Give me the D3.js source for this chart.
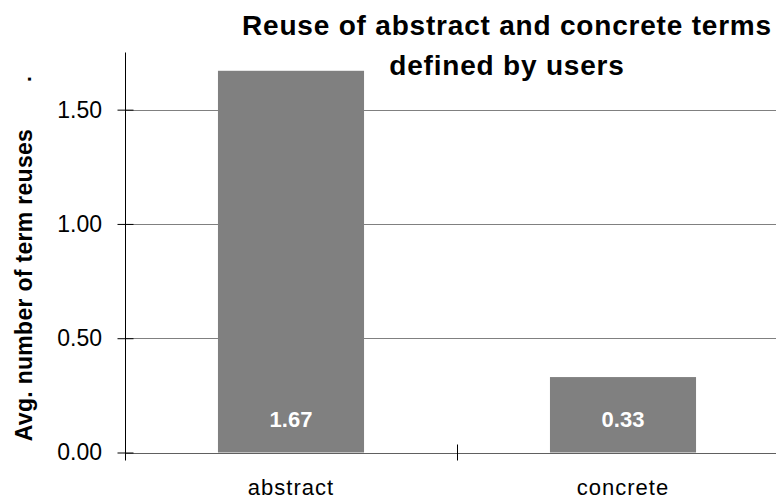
<!DOCTYPE html>
<html>
<head>
<meta charset="utf-8">
<script src="https://cdn.jsdelivr.net/npm/d3@7"></script>
<style>
  html, body { margin: 0; padding: 0; background: #fff; }
  svg { display: block; font-family: "Liberation Sans", Arial, sans-serif; }
</style>
</head>
<body>
<svg id="chart" width="776" height="501"></svg>
<script>
const categories = ["abstract", "concrete"];
const values = [1.67, 0.33];
const valueLabels = ["1.67", "0.33"];
const yTicks = [0, 0.5, 1.0, 1.5];
const yTickLabels = ["0.00", "0.50", "1.00", "1.50"];
const titleLines = ["Reuse of abstract and concrete terms", "defined by users"];
const yTitle = "Avg. number of term reuses";

const svg = d3.select("#chart");
const W = 776, H = 501;
const plot = { left: 125, right: 789, top: 52.5, bottom: 452.5 };

const y = d3.scaleLinear().domain([0, 1.75]).range([plot.bottom, plot.top]);
const x = d3.scaleBand().domain(categories).range([plot.left, plot.right])
  .paddingInner(0.56).paddingOuter(0.28);

// gridlines
svg.append("g").selectAll("line").data(yTicks).join("line")
  .attr("x1", plot.left).attr("x2", W + 20)
  .attr("y1", d => Math.round(y(d)) + 0.5).attr("y2", d => Math.round(y(d)) + 0.5)
  .attr("stroke", "#808080").attr("stroke-width", 1.2);

// bars
svg.append("g").selectAll("rect").data(categories).join("rect")
  .attr("x", d => x(d)).attr("width", x.bandwidth())
  .attr("y", (d, i) => y(values[i])).attr("height", (d, i) => y(0) - y(values[i]))
  .attr("fill", "#808080");

// x-axis line (gray baseline)
svg.append("line").attr("x1", plot.left).attr("x2", W + 20)
  .attr("y1", Math.round(y(0)) + 0.5).attr("y2", Math.round(y(0)) + 0.5)
  .attr("stroke", "#606060").attr("stroke-width", 1.2);

// y axis with crossing ticks
const yAxis = d3.axisLeft(y).tickValues(yTicks).tickFormat((d, i) => yTickLabels[i])
  .tickSizeInner(8).tickSizeOuter(0).tickPadding(15.5);
const gy = svg.append("g").attr("transform", `translate(${plot.left + 0.5},0)`).call(yAxis);
gy.select(".domain").remove();
gy.selectAll(".tick line").attr("x1", -8).attr("x2", 8).attr("stroke", "#000");
gy.selectAll(".tick text").attr("font-size", 23).attr("fill", "#000")
  .attr("font-family", "Liberation Sans, Arial, sans-serif");
svg.append("line").attr("x1", plot.left + 0.5).attr("x2", plot.left + 0.5)
  .attr("y1", plot.top).attr("y2", plot.bottom + 8).attr("stroke", "#000");

// x category separator ticks
const sepPositions = [plot.left + x.step(), plot.left + 2 * x.step()];
svg.append("g").selectAll("line").data(sepPositions).join("line")
  .attr("x1", d => Math.round(d) + 0.5).attr("x2", d => Math.round(d) + 0.5)
  .attr("y1", plot.bottom - 8).attr("y2", plot.bottom + 8).attr("stroke", "#000");

// x labels
svg.append("g").selectAll("text").data(categories).join("text")
  .attr("x", d => x(d) + x.bandwidth() / 2).attr("y", 495)
  .attr("text-anchor", "middle").attr("font-size", 22).attr("letter-spacing", 1)
  .attr("fill", "#000").text(d => d);

// value labels inside bars
svg.append("g").selectAll("text").data(categories).join("text")
  .attr("x", d => x(d) + x.bandwidth() / 2).attr("y", y(0) - 26)
  .attr("text-anchor", "middle").attr("font-size", 22).attr("font-weight", "bold")
  .attr("fill", "#fff").text((d, i) => valueLabels[i]);

// title
svg.append("g").selectAll("text").data(titleLines).join("text")
  .attr("x", 507).attr("y", (d, i) => 35 + i * 40)
  .attr("text-anchor", "middle").attr("font-size", 28).attr("font-weight", "bold")
  .attr("letter-spacing", 0.8).attr("fill", "#000").text(d => d);

// y title
svg.append("text")
  .attr("transform", `translate(32,${285}) rotate(-90)`)
  .attr("text-anchor", "middle").attr("font-size", 23).attr("font-weight", "bold")
  .attr("letter-spacing", 0.3).attr("fill", "#000").text(yTitle);

// stray dot
svg.append("text")
  .attr("transform", "translate(31,79) rotate(-90)")
  .attr("text-anchor", "middle").attr("font-size", 21).attr("font-weight", "bold")
  .attr("fill", "#000").text(".");
</script>
</body>
</html>
